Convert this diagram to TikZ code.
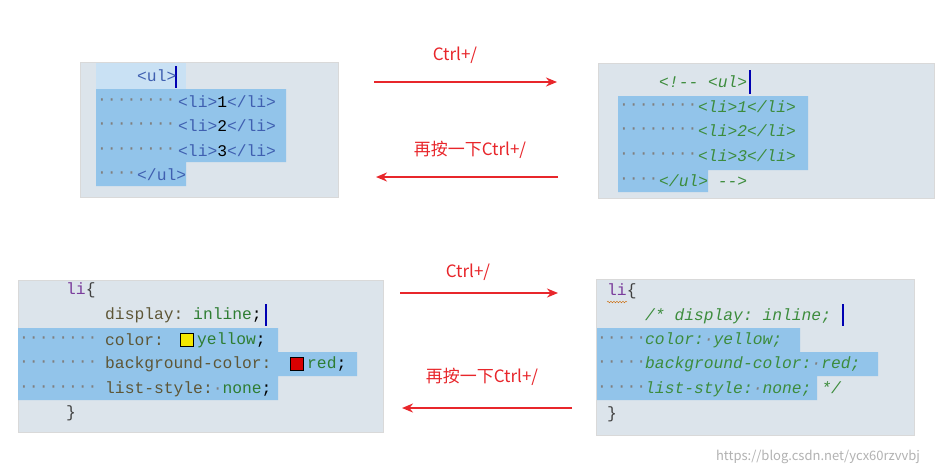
\documentclass[tikz,border=0pt]{standalone}
\usepackage{fontspec}
\usetikzlibrary{decorations.pathmorphing,arrows.meta}
\setmainfont{Noto Sans CJK SC}
\setmonofont{Liberation Mono}
\begin{document}
\begin{tikzpicture}[x=1pt,y=-1pt,
  panel/.style={fill=bgc,draw=gray!30},
  sel/.style={fill=selc},
  code/.style={anchor=west,inner sep=0pt,font=\ttfamily\fontsize{16.3}{16}\selectfont},
  codeit/.style={anchor=west,inner sep=0pt,font=\ttfamily\itshape\fontsize{16.3}{16}\selectfont},
  dots/.style={anchor=west,inner sep=0pt,text=gray,font=\ttfamily\fontsize{16.3}{16}\selectfont},
  arr/.style={draw=arrc,line width=2pt,-{Stealth[length=11pt,width=9pt]}},
  lab/.style={text=arrc,font=\fontsize{17}{17}\selectfont}]
\definecolor{bgc}{HTML}{DCE4EB}
\definecolor{selc}{HTML}{92C4EA}
\definecolor{arrc}{HTML}{E8262B}
\definecolor{tag}{HTML}{3F5FB0}
\definecolor{cmt}{HTML}{3C8C3C}
\definecolor{sel2}{HTML}{7A3C9C}
\definecolor{prop}{HTML}{5E5636}
\definecolor{val}{HTML}{2E7D32}
\useasboundingbox (0,0) rectangle (941,474);
\fill[white] (0,0) rectangle (941,474);
% Panel 1
\path[panel] (80,62) rectangle (338,197);
\path[sel] (96,89) -- (286,89) -- (286,162) -- (186,162) -- (186,186) -- (96,186) -- cycle;
\path[fill=selc!50] (96,63) rectangle (186,89);
\draw[blue!70!black,line width=1.2pt] (176,66) -- (176,88);
\node[code,text=tag] (a1) at (137,76) {<ul>};
\foreach \y/\n in {102/1,126/2,151/3}{
  \node[dots] at (97,\y) {········};
  \node[code] at (178,\y) {\textcolor{tag}{<li>}\n\textcolor{tag}{</li>}};}
\node[dots] at (97,175) {····};
\node[code,text=tag] (a5) at (137,175) {</ul>};
% Panel 2
\path[panel] (598,63) rectangle (934,198);
\path[sel] (618,96) -- (808,96) -- (808,170) -- (708,170) -- (708,192) -- (618,192) -- cycle;
\draw[blue!70!black,line width=1.2pt] (750,70) -- (750,94);
\node[codeit,text=cmt] (b1) at (659,82) {<!-- <ul>};
\foreach \y/\n in {107/1,131/2,156/3}{
  \node[dots] at (619,\y) {········};
  \node[codeit,text=cmt] at (698,\y) {<li>\n</li>};}
\node[dots] at (619,181) {····};
\node[codeit,text=cmt] (b5) at (659,181) {</ul> -->};
% Panel 3
\path[panel] (18,280) rectangle (383,432);
\path[sel] (18,328) -- (278,328) -- (278,352) -- (357,352) -- (357,376) -- (278,376) -- (278,400) -- (18,400) -- cycle;
\draw[blue!70!black,line width=1.2pt] (266,304) -- (266,326);
\node[code,text=sel2] (c1) at (66,290) {li\textcolor{darkgray}{\{}};
\node[code] (c2) at (105,315) {\textcolor{prop}{display:} \textcolor{val}{inline};};
\foreach \y in {340,364,389} \node[dots] at (19,\y) {········};
\node[code,text=prop] (c3) at (105,340) {color:};
\node[code] at (197,340) {\textcolor{val}{yellow};};
\node[code,text=prop] (c4) at (105,364) {background-color:};
\node[code] at (307,364) {\textcolor{val}{red};};
\node[code] (c5) at (105,389) {\textcolor{prop}{list-style:}\textcolor{gray}{·}\textcolor{val}{none};};
\node[code,text=darkgray] (c6) at (66,413) {\}};
\draw[fill=yellow!90!olive,draw=black] (180,333) rectangle (193,346);
\draw[fill=red!85!black,draw=black] (290,357) rectangle (303,370);
% Panel 4
\path[panel] (596,279) rectangle (914,435);
\path[sel] (597,328) -- (800,328) -- (800,352) -- (878,352) -- (878,376) -- (817,376) -- (817,400) -- (597,400) -- cycle;
\draw[blue!70!black,line width=1.2pt] (843,304) -- (843,326);
\node[code,text=sel2] (d1) at (607,291) {li\textcolor{darkgray}{\{}};
\draw[orange!80!black,decorate,decoration={snake,amplitude=0.8pt,segment length=3pt}] (607,302) -- (627,302);
\node[codeit,text=cmt] (d2) at (645,316) {/* display: inline;};
\foreach \y in {340,364,389} \node[dots] at (597,\y) {·····};
\node[codeit,text=cmt] (d3) at (645,340) {color:\textcolor{gray}{·}yellow;};
\node[codeit,text=cmt] (d4) at (645,364) {background-color:\textcolor{gray}{·}red;};
\node[codeit,text=cmt] (d5) at (645,389) {list-style:\textcolor{gray}{·}none; */};
\node[code,text=darkgray] (d6) at (607,414) {\}};
% Arrows
\coordinate (r1s) at (374,82); \coordinate (r1e) at (557,82);
\coordinate (l1s) at (558,177); \coordinate (l1e) at (376,177);
\coordinate (r2s) at (400,293); \coordinate (r2e) at (558,293);
\coordinate (l2s) at (572,408); \coordinate (l2e) at (402,408);
\draw[arr] (r1s) -- (r1e);
\draw[arr] (l1s) -- (l1e);
\draw[arr] (r2s) -- (r2e);
\draw[arr] (l2s) -- (l2e);
\node[lab] (t1) at (455,55) {Ctrl+/};
\node[lab] (t2) at (470,150) {再按一下Ctrl+/};
\node[lab] (t3) at (468,272) {Ctrl+/};
\node[lab] (t4) at (482,377) {再按一下Ctrl+/};
\node[text=gray!60,font=\fontsize{13}{13}\selectfont] (w) at (818,457) {https://blog.csdn.net/ycx60rzvvbj};
\end{tikzpicture}
\end{document}
